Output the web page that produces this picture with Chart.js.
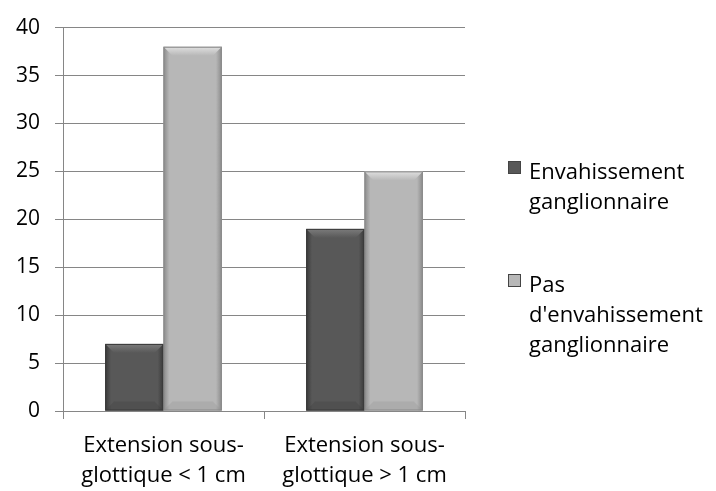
<!DOCTYPE html>
<html>
<head>
<meta charset="utf-8">
<script src="https://cdn.jsdelivr.net/npm/chart.js@4"></script>
<style>
  body { margin: 0; background: #fff; }
  #wrap { position: relative; width: 716px; height: 491px; }
  #legende { position: absolute; left: 508px; top: 155px; font-family: 'Open Sans', sans-serif; font-size: 22px; line-height: 30px; color: #000; }
  .item { position: relative; padding-left: 21px; margin-bottom: 53px; white-space: nowrap; }
  .carre { position: absolute; left: 0; top: 6px; width: 11px; height: 11px; border: 1px solid #444; }
</style>
</head>
<body>
<div id="wrap">
  <canvas id="grafico" width="716" height="491"></canvas>
  <div id="legende"></div>
</div>
<script>
const categorias = [['Extension sous-', 'glottique < 1 cm'], ['Extension sous-', 'glottique > 1 cm']];
const series = ['Envahissement ganglionnaire', "Pas d'envahissement ganglionnaire"];
const valoresEnvahi = [7, 19];
const valoresPas = [38, 25];
const ticksY = [0, 5, 10, 15, 20, 25, 30, 35, 40];

const coresFace = ['#585858', '#b7b7b7'];
const coresBorda = ['#393939', '#8a8a8a'];
const coresClaro = ['#7c7c7c', '#e0e0e0'];

// Desenha o chanfro dos retangulos (efeito 3D)
const chanfro = {
    id: 'chanfro',
    afterDatasetsDraw(chart) {
        const c = chart.ctx;
        chart.data.datasets.forEach(function (ds, i) {
            chart.getDatasetMeta(i).data.forEach(function (bar) {
                const w = bar.width;
                const x0 = bar.x - w / 2, x1 = bar.x + w / 2;
                const y0 = bar.y, y1 = bar.base;
                const b = 9;
                c.save();
                // face com bordas escuras
                const g = c.createLinearGradient(x0, 0, x1, 0);
                g.addColorStop(0, coresBorda[i]);
                g.addColorStop(0.1, coresFace[i]);
                g.addColorStop(0.9, coresFace[i]);
                g.addColorStop(1, coresBorda[i]);
                c.fillStyle = g;
                c.fillRect(x0, y0, w, y1 - y0);
                // topo claro
                const gt = c.createLinearGradient(0, y0, 0, y0 + b);
                gt.addColorStop(0, coresClaro[i]);
                gt.addColorStop(1, coresFace[i]);
                c.fillStyle = gt;
                c.beginPath();
                c.moveTo(x0, y0); c.lineTo(x1, y0); c.lineTo(x1 - b, y0 + b); c.lineTo(x0 + b, y0 + b);
                c.closePath(); c.fill();
                // base levemente mais escura
                c.fillStyle = coresBorda[i];
                c.globalAlpha = 0.25;
                c.beginPath();
                c.moveTo(x0, y1); c.lineTo(x1, y1); c.lineTo(x1 - b, y1 - b); c.lineTo(x0 + b, y1 - b);
                c.closePath(); c.fill();
                c.globalAlpha = 1;
                c.strokeStyle = coresBorda[i];
                c.lineWidth = 1;
                c.strokeRect(x0 + 0.5, y0 + 0.5, w - 1, y1 - y0 - 1);
                c.restore();
            });
        });
    }
};

const ctx = document.getElementById('grafico');
new Chart(ctx, {
    type: 'bar',
    data: {
        labels: categorias,
        datasets: [
            { label: series[0], data: valoresEnvahi, backgroundColor: coresFace[0] },
            { label: series[1], data: valoresPas, backgroundColor: coresFace[1] }
        ]
    },
    options: {
        responsive: false,
        animation: false,
        layout: { padding: { top: 27, right: 251, bottom: 0, left: 0 } },
        plugins: { legend: { display: false }, tooltip: { enabled: false } },
        datasets: { bar: { categoryPercentage: 0.58, barPercentage: 1 } },
        scales: {
            x: {
                grid: { display: true, drawOnChartArea: false, offset: true, color: '#868686', tickLength: 8 },
                border: { color: '#868686' },
                ticks: { color: '#000', font: { family: 'Open Sans', size: 22, lineHeight: 1.36 }, padding: 12, maxRotation: 0 },
                afterFit(scale) { scale.height = 80; }
            },
            y: {
                min: 0, max: 40,
                afterBuildTicks(scale) { scale.ticks = ticksY.map(v => ({ value: v })); },
                grid: { color: '#868686', tickLength: 8 },
                border: { color: '#868686' },
                ticks: { color: '#000', font: { family: 'Open Sans', size: 21 }, padding: 15 },
                afterFit(scale) { scale.width = 63; }
            }
        }
    },
    plugins: [chanfro]
});

// legenda em HTML
const legende = document.getElementById('legende');
const textos = [['Envahissement', 'ganglionnaire'], ['Pas', "d'envahissement", 'ganglionnaire']];
textos.forEach(function (linhas, i) {
    const d = document.createElement('div');
    d.className = 'item';
    d.innerHTML = '<span class="carre" style="background:' + coresFace[i] + '"></span>' + linhas.join('<br>');
    legende.appendChild(d);
});
</script>
</body>
</html>
